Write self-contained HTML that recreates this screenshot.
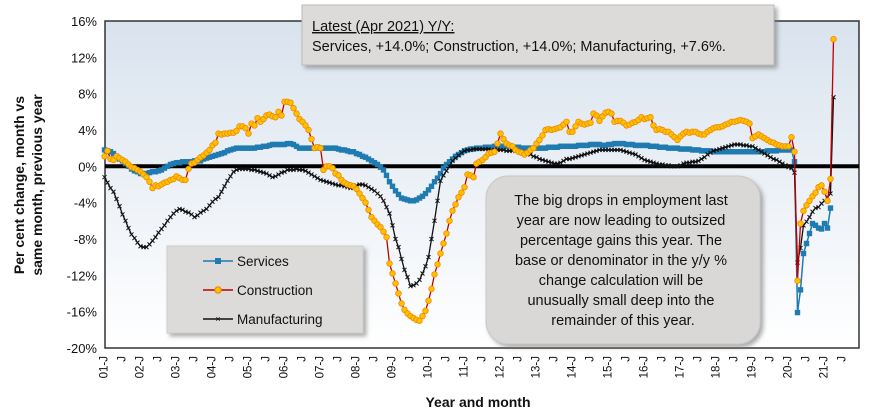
<!DOCTYPE html>
<html><head><meta charset="utf-8">
<style>
body{margin:0;background:#fff;width:870px;height:416px;overflow:hidden;font-family:"Liberation Sans",sans-serif;}
svg{display:block}
</style></head>
<body>
<svg id="chart" width="870" height="416">
<defs>
<linearGradient id="bg" x1="0" y1="0" x2="0" y2="1"><stop offset="0" stop-color="#d9e3ee"/><stop offset="1" stop-color="#ffffff"/></linearGradient>
<filter id="sh" x="-10%" y="-10%" width="130%" height="140%"><feDropShadow dx="3" dy="3" stdDeviation="2" flood-color="#777" flood-opacity="0.6"/></filter>
</defs>
<rect x="105" y="21" width="754" height="327" fill="url(#bg)" stroke="#333" stroke-width="1.5"/>
<g id="yaxis"></g>
<g id="xaxis"></g>
<line id="zero" stroke="#000" stroke-width="4"/>
<g id="series"></g>
<text x="0" y="0" transform="translate(24,185) rotate(-90)" text-anchor="middle" font-weight="bold" font-size="14" fill="#111"><tspan x="0" dy="0">Per cent change, month vs</tspan><tspan x="0" dy="18">same month, previous year</tspan></text>
<text x="478" y="407" text-anchor="middle" font-weight="bold" font-size="14" fill="#111">Year and month</text>
<g>
<rect x="302" y="5" width="472" height="60" fill="#dcdbda" stroke="#bbb" filter="url(#sh)"/>
<text x="312" y="31" font-size="14.5" fill="#111" text-decoration="underline">Latest (Apr 2021) Y/Y:</text>
<text x="312" y="51" font-size="14.5" fill="#111">Services, +14.0%; Construction, +14.0%; Manufacturing, +7.6%.</text>
</g>
<g>
<rect x="167" y="246" width="196" height="87" fill="#dcdbda" stroke="#ccc" filter="url(#sh)"/>
<g><line x1="203" y1="261" x2="233" y2="261" stroke="#1f7bb0" stroke-width="1.5"/><rect x="215" y="258" width="6" height="6" fill="#1f7bb0"/><text x="237" y="266" font-size="13.5" fill="#111">Services</text></g>
<g><line x1="203" y1="290" x2="233" y2="290" stroke="#c00000" stroke-width="1.5"/><circle cx="218" cy="290" r="3.2" fill="#ffc000" stroke="#f08000"/><text x="237" y="295" font-size="13.5" fill="#111">Construction</text></g>
<g><line x1="203" y1="319" x2="233" y2="319" stroke="#111" stroke-width="1.5"/><text x="218" y="322" font-size="9" text-anchor="middle" fill="#111">×</text><text x="237" y="324" font-size="13.5" fill="#111">Manufacturing</text></g>
</g>
<g>
<rect x="486" y="176" width="274" height="168" rx="22" fill="#d9d8d7" stroke="#c8c8c8" filter="url(#sh)"/>
<text font-size="14.5" fill="#111" text-anchor="middle">
<tspan x="623" y="205">The big drops in employment last</tspan>
<tspan x="623" y="225">year are now leading to outsized</tspan>
<tspan x="623" y="245">percentage gains this year. The</tspan>
<tspan x="623" y="265">base or denominator in the y/y %</tspan>
<tspan x="623" y="285">change calculation will be</tspan>
<tspan x="623" y="305">unusually small deep into the</tspan>
<tspan x="623" y="325">remainder of this year.</tspan>
</text>
</g>
</svg>
<script>
const yTicks=[16,12,8,4,0,-4,-8,-12,-16,-20];
const startYear=2001;
const services=[1.8,1.7,1.6,1.4,1.1,0.8,0.6,0.3,0.0,-0.3,-0.5,-0.6,
-0.8,-0.8,-0.8,-0.7,-0.6,-0.6,-0.5,-0.4,-0.2,0.0,0.2,0.3,
0.4,0.4,0.5,0.5,0.5,0.5,0.6,0.6,0.6,0.8,0.9,1.0,
1.1,1.2,1.3,1.4,1.5,1.7,1.8,1.9,2.0,2.0,2.0,2.0,
2.0,2.0,2.0,2.1,2.1,2.2,2.2,2.3,2.4,2.4,2.4,2.4,
2.4,2.5,2.5,2.4,2.2,2.0,2.0,2.0,2.0,2.0,2.0,2.1,
2.0,2.0,2.0,2.0,2.0,2.0,1.9,1.8,1.8,1.7,1.6,1.6,
1.4,1.3,1.1,1.0,0.8,0.6,0.4,0.2,-0.1,-0.4,-1.0,-1.7,
-2.2,-2.7,-3.1,-3.5,-3.6,-3.7,-3.8,-3.8,-3.7,-3.5,-3.3,-3.0,
-2.6,-2.2,-1.7,-1.3,-0.8,-0.2,0.2,0.5,0.8,1.1,1.3,1.5,
1.7,1.8,1.9,1.9,2.0,2.0,2.0,2.1,2.1,2.1,2.2,2.2,
2.2,2.2,2.2,2.2,2.1,2.1,2.1,2.0,2.0,2.0,2.0,2.0,
2.0,2.0,2.0,2.0,2.1,2.1,2.1,2.1,2.2,2.2,2.2,2.2,
2.2,2.2,2.3,2.3,2.3,2.3,2.4,2.4,2.4,2.4,2.3,2.3,
2.4,2.4,2.5,2.5,2.5,2.5,2.4,2.4,2.4,2.3,2.3,2.3,
2.3,2.3,2.2,2.2,2.2,2.1,2.1,2.1,2.0,2.0,2.0,2.0,
1.9,1.9,1.9,1.9,1.8,1.8,1.8,1.7,1.7,1.7,1.7,1.6,
1.6,1.6,1.6,1.6,1.6,1.6,1.6,1.6,1.6,1.6,1.6,1.6,
1.6,1.6,1.6,1.6,1.6,1.7,1.7,1.7,1.7,1.8,1.8,1.8,
1.8,1.8,0.5,-16.1,-13.6,-9.6,-8.5,-7.4,-6.3,-6.5,-6.8,-6.9,
-6.3,-6.8,-4.6];
const construction=[1.1,1.7,0.8,0.7,1.1,0.9,0.7,0.5,0.2,-0.1,-0.2,-0.4,
-0.6,-0.9,-1.2,-1.7,-2.4,-2.1,-2.2,-2.0,-1.8,-1.7,-1.5,-1.4,
-1.1,-1.3,-1.5,-1.5,-0.3,0.3,0.4,0.7,1.0,1.2,1.5,1.8,
2.3,2.6,3.6,3.5,3.6,3.6,3.7,3.7,3.9,4.4,4.4,4.2,
3.6,4.7,4.5,5.3,4.9,5.2,5.6,5.7,5.5,5.4,6.0,5.6,
7.1,7.1,7.0,6.4,5.8,5.2,4.9,4.5,4.0,3.0,2.0,2.1,
2.0,-0.4,0.0,0.0,-0.2,-0.8,-1.0,-1.5,-1.8,-2.0,-2.1,-2.2,
-2.5,-3.0,-3.5,-4.0,-4.8,-5.6,-6.0,-6.4,-6.7,-7.2,-7.8,-10.7,
-11.8,-12.9,-14.0,-15.1,-15.8,-16.2,-16.5,-16.7,-16.9,-17.0,-16.5,-15.9,
-14.8,-13.5,-11.9,-10.8,-9.6,-8.5,-7.4,-6.0,-4.9,-4.2,-3.4,-2.9,
-2.3,-0.9,-1.0,-1.2,0.3,0.5,0.7,1.0,1.4,1.5,1.6,2.5,
3.6,3.0,2.5,2.3,2.2,1.8,1.6,1.5,1.3,1.5,1.8,2.0,
2.5,2.9,3.4,4.0,4.1,4.0,4.1,4.2,4.3,4.6,4.9,3.8,
3.8,4.4,4.9,4.7,4.6,4.7,4.8,5.8,5.6,5.0,5.5,5.9,
6.0,5.8,4.9,5.0,5.0,4.8,4.5,4.6,4.8,4.9,5.1,5.4,
5.2,5.3,5.4,4.5,4.0,4.1,4.0,3.8,3.8,3.5,3.2,2.9,
3.3,3.6,3.8,3.7,3.8,3.8,3.6,3.5,3.5,3.8,4.0,4.2,
4.3,4.3,4.4,4.6,4.7,4.9,4.9,5.0,5.1,5.0,4.9,4.7,
3.1,3.3,3.5,3.3,3.1,2.9,2.7,2.6,2.4,2.3,2.2,2.2,
2.2,3.2,1.6,-12.6,-6.3,-4.9,-4.3,-3.8,-3.3,-2.9,-2.3,-2.1,
-2.8,-3.8,-1.4,14.0];
const manufacturing=[-1.2,-1.8,-2.4,-2.8,-3.6,-4.4,-5.3,-6.0,-6.8,-7.5,-7.9,-8.4,
-8.8,-8.9,-8.9,-8.6,-8.2,-7.8,-7.3,-6.9,-6.5,-6.0,-5.6,-5.2,
-4.9,-4.7,-4.8,-5.0,-5.1,-5.3,-5.6,-5.4,-5.1,-4.9,-4.7,-4.3,
-3.9,-3.6,-3.4,-2.8,-2.2,-1.6,-1.1,-0.6,-0.4,-0.3,-0.3,-0.3,
-0.3,-0.4,-0.4,-0.5,-0.6,-0.7,-0.8,-1.0,-1.2,-1.1,-0.9,-0.7,
-0.6,-0.4,-0.4,-0.4,-0.3,-0.4,-0.4,-0.5,-0.7,-0.9,-1.1,-1.3,
-1.5,-1.6,-1.7,-1.8,-1.9,-2.0,-2.1,-2.1,-2.2,-2.3,-2.4,-2.3,
-2.1,-2.0,-2.0,-2.1,-2.3,-2.5,-2.7,-3.0,-3.3,-3.8,-4.5,-5.2,
-6.5,-8.0,-8.9,-10.2,-11.4,-12.2,-13.2,-13.1,-12.9,-12.5,-11.8,-11.0,
-10.0,-8.0,-6.0,-3.8,-1.6,-1.0,-0.5,0.0,0.6,0.9,1.2,1.5,
1.7,1.8,1.8,1.9,1.9,1.9,1.9,1.9,1.9,1.8,1.8,1.8,
1.8,1.8,1.7,1.7,1.7,1.7,1.6,1.6,1.5,1.4,1.3,1.1,
1.0,0.8,0.7,0.6,0.5,0.4,0.3,0.3,0.4,0.6,0.8,0.8,
0.9,1.0,1.1,1.2,1.3,1.4,1.5,1.6,1.7,1.8,1.8,1.8,
1.8,1.8,1.8,1.8,1.8,1.7,1.6,1.5,1.4,1.3,1.1,0.9,
0.7,0.6,0.5,0.4,0.3,0.2,0.2,0.1,0.1,0.0,0.0,0.0,
0.1,0.3,0.4,0.4,0.5,0.5,0.6,0.8,1.0,1.3,1.5,1.7,
1.8,1.9,2.0,2.1,2.2,2.3,2.4,2.4,2.4,2.3,2.3,2.2,
2.2,2.0,1.8,1.6,1.4,1.2,1.0,0.8,0.7,0.5,0.3,0.1,
-0.1,-0.2,-0.7,-10.6,-9.0,-6.5,-6.1,-5.6,-5.0,-4.6,-4.5,-4.1,
-3.8,-3.4,-3.0,7.6];

const NS="http://www.w3.org/2000/svg";
const X0=104.5, MW=3, Y0=166.3, YS=9.083;
function xScale(m){return X0+m*MW;}
function yScale(v){return Y0-v*YS;}
function mk(tag,attrs,parent){const e=document.createElementNS(NS,tag);for(const k in attrs)e.setAttribute(k,attrs[k]);parent.appendChild(e);return e;}

const ya=document.getElementById('yaxis');
yTicks.forEach(t=>{
  const tx=mk('text',{x:97,y:yScale(t)+5,'text-anchor':'end','font-size':13,fill:'#111'},ya);
  
  
  tx.textContent=t+'%';
});
const z=document.getElementById('zero');
z.setAttribute('x1',105);z.setAttribute('x2',859);z.setAttribute('y1',yScale(0));z.setAttribute('y2',yScale(0));

const xa=document.getElementById('xaxis');
for(let m=0;m<=246;m+=6){
  const yr=startYear+Math.floor(m/12);
  const lbl=(m%12===0)?String(yr%100).padStart(2,'0')+'-J':'J';
  const x=xScale(m)+3;
  const tx=mk('text',{transform:`translate(${x},356) rotate(-90)`,'text-anchor':'end','font-size':11.5,fill:'#111'},xa);
  
  
  tx.textContent=lbl;
}

const sg=document.getElementById('series');
function pts(arr){return arr.map((v,i)=>xScale(i).toFixed(1)+','+yScale(v).toFixed(1)).join(' ');}
// services
const sl=mk('polyline',{points:pts(services),fill:'none',stroke:'#1f7bb0','stroke-width':1.5},sg);


services.forEach((v,i)=>{
  const r=mk('rect',{x:xScale(i)-2.7,y:yScale(v)-2.7,width:5.4,height:5.4,fill:'#1f7bb0'},sg);
  
  
});
// manufacturing
const ml=mk('polyline',{points:pts(manufacturing),fill:'none',stroke:'#111','stroke-width':1.3},sg);


manufacturing.forEach((v,i)=>{
  const x=xScale(i),y=yScale(v);
  const p=mk('path',{d:`M${x-2},${y-2}L${x+2},${y+2}M${x-2},${y+2}L${x+2},${y-2}`,stroke:'#111','stroke-width':1},sg);
  
  
});
// construction
const cl=mk('polyline',{points:pts(construction),fill:'none',stroke:'#c00000','stroke-width':1.3},sg);


construction.forEach((v,i)=>{
  const c=mk('circle',{cx:xScale(i),cy:yScale(v),r:2.8,fill:'#ffc000',stroke:'#f08a00','stroke-width':0.8},sg);
  
  
});
</script>
</body></html>
